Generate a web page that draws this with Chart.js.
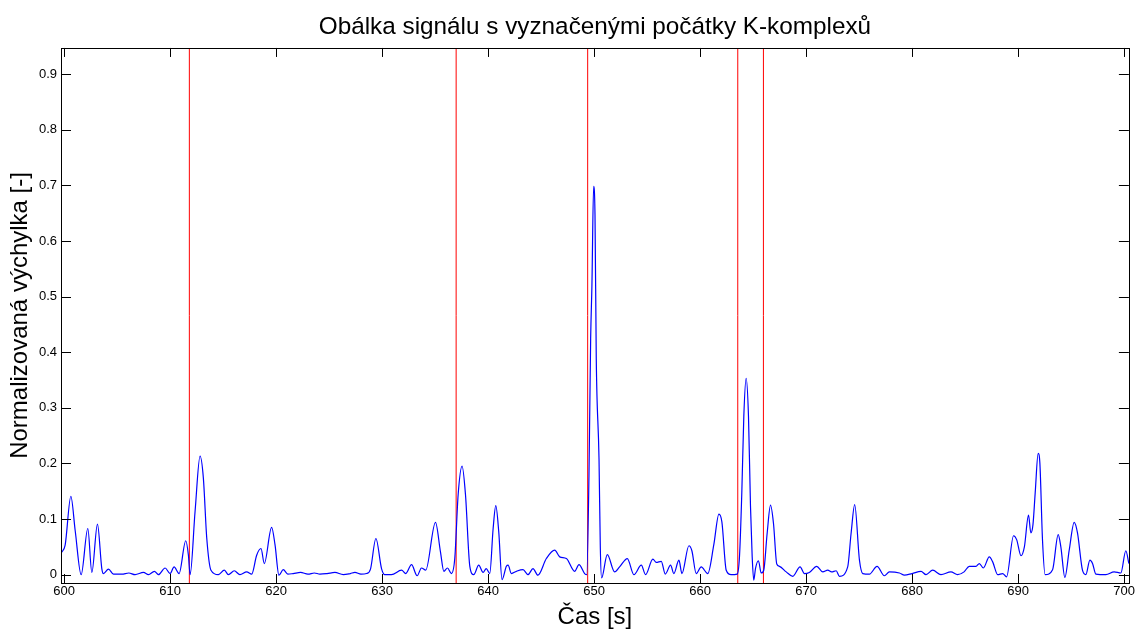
<!DOCTYPE html>
<html>
<head>
<meta charset="utf-8">
<title>Obálka signálu</title>
<script src="https://cdn.jsdelivr.net/npm/chart.js@4/dist/chart.umd.min.js"></script>
<style>
  body { margin: 0; background: #fff; }
  #wrap { width: 1136px; height: 630px; }
</style>
</head>
<body>
<div id="wrap"><canvas id="graf" width="1136" height="630"></canvas></div>
<script>
// cas [s] a normalizovana vychylka obalky
const casy = [
  599.75, 600.09, 600.63, 601.04, 601.60, 602.23, 602.61, 603.14, 603.55, 603.70,
  604.18, 604.65, 605.44, 606.10, 606.69, 607.48, 607.95, 608.51, 608.89, 609.52,
  609.99, 610.37, 610.84, 611.47, 611.72, 611.88, 612.35, 612.82, 613.13, 613.45,
  613.85, 614.55, 615.11, 615.49, 616.05, 616.58, 617.22, 617.69, 618.16, 618.57,
  618.88, 619.57, 619.89, 620.26, 620.67, 621.10, 621.60, 622.30, 623.00, 623.60,
  624.13, 624.80, 625.54, 626.33, 627.00, 627.43, 628.00, 628.53, 628.90, 629.41,
  629.94, 630.25, 630.88, 631.83, 632.23, 632.77, 633.30, 633.71, 634.11, 635.03,
  635.50, 635.82, 636.16, 636.53, 636.85, 637.17, 637.54, 637.86, 638.27, 638.64,
  639.11, 639.52, 639.82, 640.15, 640.47, 640.72, 641.00, 641.31, 641.72, 641.88,
  642.19, 642.66, 643.29, 643.76, 644.23, 644.69, 645.49, 646.28, 646.75, 647.38,
  648.16, 648.57, 649.10, 649.30, 649.51, 649.67, 649.79, 649.95, 650.08, 650.20,
  650.46, 650.58, 650.70, 651.24, 651.93, 652.40, 653.13, 653.75, 654.45, 654.85,
  655.54, 655.86, 656.33, 656.71, 657.21, 657.52, 658.00, 658.28, 658.94, 659.22,
  659.63, 660.10, 660.72, 661.29, 661.77, 662.05, 662.46, 662.93, 663.49, 663.71,
  663.93, 664.12, 664.34, 664.56, 664.75, 664.91, 665.06, 665.22, 665.50, 665.76,
  666.00, 666.32, 666.64, 666.92, 667.23, 667.48, 668.12, 668.74, 669.43, 669.84,
  670.30, 671.00, 671.57, 672.04, 672.40, 672.83, 673.14, 673.92, 674.24, 674.58,
  675.03, 675.34, 675.97, 676.69, 677.38, 677.85, 678.80, 679.27, 680.00, 680.84,
  681.31, 681.94, 682.72, 683.66, 684.29, 684.90, 685.39, 686.02, 686.34, 686.72,
  687.28, 687.60, 688.07, 688.54, 688.91, 689.57, 689.86, 690.27, 690.59, 690.98,
  691.20, 691.40, 691.61, 691.89, 692.05, 692.30, 692.55, 693.25, 693.78, 694.03,
  694.41, 694.82, 695.29, 695.60, 696.07, 696.39, 696.77, 697.02, 697.33, 698.28,
  699.06, 699.69, 700.16, 700.45
];
const obalka = [
  0.040, 0.053, 0.141, 0.079, 0.000, 0.083, 0.004, 0.091, 0.011, 0.002,
  0.010, 0.001, 0.001, 0.003, 0.000, 0.004, 0.000, 0.006, 0.000, 0.012,
  0.002, 0.014, 0.002, 0.061, 0.035, 0.000, 0.114, 0.213, 0.174, 0.066,
  0.008, 0.000, 0.008, 0.000, 0.007, 0.000, 0.005, 0.001, 0.035, 0.047,
  0.020, 0.085, 0.054, -0.001, 0.009, 0.001, 0.002, 0.004, 0.001, 0.003,
  0.001, 0.002, 0.004, 0.000, 0.002, 0.004, 0.001, 0.002, 0.010, 0.065,
  0.011, 0.000, 0.000, 0.008, 0.002, 0.018, -0.002, 0.012, 0.008, 0.094,
  0.041, 0.006, 0.012, 0.002, 0.029, 0.144, 0.195, 0.144, 0.015, 0.000,
  0.017, 0.004, 0.011, 0.002, 0.083, 0.124, 0.077, -0.009, 0.015, 0.017,
  0.002, 0.006, 0.009, 0.000, 0.011, -0.001, 0.029, 0.044, 0.032, 0.029,
  0.006, 0.018, 0.002, 0.000, 0.177, 0.424, 0.520, 0.698, 0.647, 0.388,
  0.207, 0.050, -0.006, 0.036, 0.005, 0.014, 0.029, 0.000, 0.017, 0.000,
  0.028, 0.022, 0.024, 0.001, 0.017, 0.002, 0.026, 0.002, 0.052, 0.043,
  0.002, 0.014, 0.002, 0.054, 0.109, 0.095, 0.008, 0.000, 0.001, 0.032,
  0.147, 0.285, 0.353, 0.285, 0.123, 0.032, -0.010, 0.011, 0.025, 0.003,
  0.008, 0.074, 0.125, 0.092, 0.019, 0.015, 0.005, -0.003, 0.014, 0.002,
  0.004, 0.015, 0.005, 0.008, 0.005, 0.007, -0.003, 0.014, 0.074, 0.126,
  0.026, 0.002, 0.001, 0.015, -0.002, 0.005, 0.003, -0.001, 0.002, 0.006,
  0.000, 0.008, 0.000, 0.005, 0.000, 0.005, 0.015, 0.015, 0.020, 0.012,
  0.032, 0.023, 0.000, 0.002, -0.004, 0.070, 0.063, 0.034, 0.050, 0.107,
  0.075, 0.090, 0.147, 0.218, 0.201, 0.062, 0.000, 0.009, 0.072, 0.050,
  -0.005, 0.044, 0.094, 0.075, 0.008, 0.000, 0.026, 0.020, 0.001, 0.000,
  0.005, 0.003, 0.043, 0.020
];
// pocatky K-komplexu [s]
const pocatky = [611.81, 636.98, 649.39, 663.55, 665.97];

// rozsah os
const xMin = 599.7, xMax = 700.45;
const yMin = -0.015, yMax = 0.947;
const xKrok = 10, yKrok = 0.1;

const pismo = "'Liberation Sans', Arial, Helvetica, sans-serif";

// MATLAB styl: ramecek a ticky dovnitr na vsech stranach
const ramecek = {
  id: 'ramecek',
  afterDraw(chart) {
    const { ctx, chartArea: a, scales } = chart;
    ctx.save();
    ctx.strokeStyle = '#000';
    ctx.lineWidth = 1;
    ctx.beginPath();
    scales.x.ticks.forEach(t => {
      const px = Math.round(scales.x.getPixelForValue(t.value)) + 0.5;
      ctx.moveTo(px, a.bottom); ctx.lineTo(px, a.bottom - 9);
      ctx.moveTo(px, a.top); ctx.lineTo(px, a.top + 9);
    });
    scales.y.ticks.forEach(t => {
      const py = Math.round(scales.y.getPixelForValue(t.value)) + 0.5;
      ctx.moveTo(a.left, py); ctx.lineTo(a.left + 10, py);
      ctx.moveTo(a.right, py); ctx.lineTo(a.right - 10, py);
    });
    ctx.stroke();
    ctx.strokeRect(Math.round(a.left) + 0.5, Math.round(a.top) + 0.5,
      Math.round(a.right - a.left), Math.round(a.bottom - a.top));
    ctx.restore();
  }
};

const datasety = [{
  data: casy.map((t, i) => ({ x: t, y: obalka[i] })),
  borderColor: '#0000ff',
  borderWidth: 1.2,
  pointRadius: 0,
  fill: false,
  cubicInterpolationMode: 'monotone'
}];
pocatky.forEach(t => {
  datasety.push({
    data: [{ x: t, y: yMin }, { x: t, y: yMax }],
    borderColor: '#ff0000',
    borderWidth: 1,
    pointRadius: 0,
    fill: false
  });
});

new Chart(document.getElementById('graf'), {
  type: 'line',
  data: { datasets: datasety },
  plugins: [ramecek],
  options: {
    responsive: false,
    animation: false,
    devicePixelRatio: 1,
    layout: { padding: { left: 0, right: 6, top: 0, bottom: 0 } },
    plugins: {
      legend: { display: false },
      tooltip: { enabled: false },
      title: {
        display: true,
        fullSize: false,
        text: 'Obálka signálu s vyznačenými počátky K-komplexů',
        color: '#000',
        font: { family: pismo, size: 24.3, weight: 'normal', lineHeight: 1.2 },
        padding: { top: 13, bottom: 5.8 }
      }
    },
    scales: {
      x: {
        type: 'linear',
        min: xMin,
        max: xMax,
        afterFit: s => { s.height = 47; },
        grid: { display: false, drawTicks: false },
        border: { display: false },
        ticks: {
          stepSize: xKrok,
          includeBounds: false,
          autoSkip: false,
          maxRotation: 0,
          padding: 1,
          color: '#000',
          font: { family: pismo, size: 13 }
        },
        title: {
          display: true,
          text: 'Čas [s]',
          color: '#000',
          font: { family: pismo, size: 24, lineHeight: 1 },
          padding: { top: 0, bottom: 1 }
        }
      },
      y: {
        min: yMin,
        max: yMax,
        afterFit: s => { s.width = 61; },
        grid: { display: false, drawTicks: false },
        border: { display: false },
        ticks: {
          stepSize: yKrok,
          includeBounds: false,
          padding: 4,
          color: '#000',
          font: { family: pismo, size: 13 },
          callback: v => String(Math.round(v * 10) / 10)
        },
        title: {
          display: true,
          text: 'Normalizovaná výchylka [-]',
          color: '#000',
          font: { family: pismo, size: 24, lineHeight: 1 },
          padding: { top: 8, bottom: 0 }
        }
      }
    }
  }
});
</script>
</body>
</html>
